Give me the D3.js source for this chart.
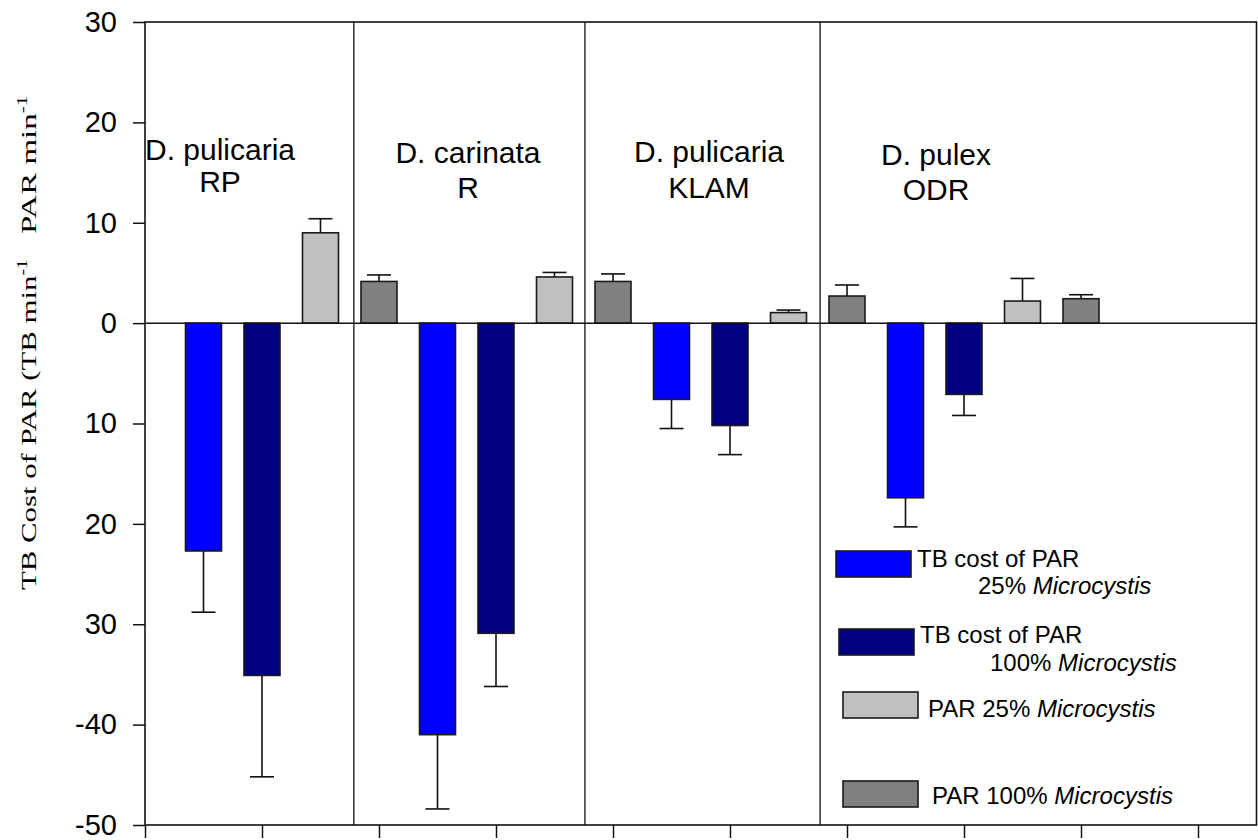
<!DOCTYPE html>
<html lang="en">
<head>
  <meta charset="UTF-8">
  <title>TB cost of PAR</title>
  <script src="https://cdn.jsdelivr.net/npm/d3@7"></script>
  <style>
    body { margin: 0; background: #fff; }
    svg { display: block; }
  </style>
</head>
<body>
<div id="chart"></div>
<script>
  // group labels (two lines each)
  const groupNames = [['D. pulicaria', 'RP'], ['D. carinata', 'R'], ['D. pulicaria', 'KLAM'], ['D. pulex', 'ODR']];

  // series values, one entry per group (null = no bar)
  const par100 = [null, 4.15, 4.15, 2.7, 2.43];
  const par100Err = [null, 0.65, 0.75, 1.1, 0.4];
  const tbCost25 = [-22.7, -41.0, -7.6, -17.4];
  const tbCost25Err = [6.1, 7.4, 2.9, 2.9];
  const tbCost100 = [-35.1, -30.9, -10.2, -7.1];
  const tbCost100Err = [10.1, 5.3, 2.9, 2.1];
  const par25 = [9.0, 4.6, 1.05, 2.2];
  const par25Err = [1.4, 0.45, 0.25, 2.25];

  // y tick values and the labels printed next to them
  const yTicks = [-50, -40, -30, -20, -10, 0, 10, 20, 30];
  const yTickLabels = ['-50', '-40', '30', '20', '10', '0', '10', '20', '30'];

  const series = [
    { key: 'par100', values: par100, err: par100Err, color: '#808080', slot: 0 },
    { key: 'tb25', values: tbCost25, err: tbCost25Err, color: '#0000ff', slot: 1 },
    { key: 'tb100', values: tbCost100, err: tbCost100Err, color: '#000080', slot: 2 },
    { key: 'par25', values: par25, err: par25Err, color: '#c0c0c0', slot: 3 }
  ];

  const W = 1258, H = 840;
  const plotL = 145, plotR = 1256.5, plotT = 22, plotB = 825;
  const barW = 36, capW = 24;

  const x = d3.scaleLinear().domain([0, 19]).range([plotL, plotR]);
  const y = d3.scaleLinear().domain([-50, 30]).range([plotB, plotT]);

  const svg = d3.select('#chart').append('svg')
    .attr('width', W)
    .attr('height', H)
    .style('font-family', '"Liberation Sans", Arial, sans-serif');

  // flatten into bars
  const bars = [];
  series.forEach(s => {
    s.values.forEach((v, i) => {
      if (v == null) return;
      bars.push({ k: i * 4 + s.slot, v: v, e: s.err[i], color: s.color });
    });
  });

  // group dividers
  const dividerAt = [3.57, 7.52, 11.54];
  svg.selectAll('line.div')
    .data(dividerAt)
    .enter().append('line')
    .attr('x1', d => x(d)).attr('x2', d => x(d))
    .attr('y1', plotT).attr('y2', plotB)
    .attr('stroke', '#111').attr('stroke-width', 1.3);

  // error bars (one-sided, away from zero)
  const eb = svg.append('g').attr('stroke', '#111').attr('stroke-width', 1.6);
  bars.forEach(b => {
    const end = b.v < 0 ? b.v - b.e : b.v + b.e;
    eb.append('line')
      .attr('x1', x(b.k)).attr('x2', x(b.k))
      .attr('y1', y(b.v)).attr('y2', y(end));
    eb.append('line')
      .attr('x1', x(b.k) - capW / 2).attr('x2', x(b.k) + capW / 2)
      .attr('y1', y(end)).attr('y2', y(end));
  });

  // bars
  svg.append('g').selectAll('rect')
    .data(bars)
    .enter().append('rect')
    .attr('x', d => x(d.k) - barW / 2)
    .attr('width', barW)
    .attr('y', d => y(Math.max(0, d.v)))
    .attr('height', d => Math.abs(y(d.v) - y(0)))
    .attr('fill', d => d.color)
    .attr('stroke', '#1a1a1a')
    .attr('stroke-width', 1.6);

  // zero line
  svg.append('line')
    .attr('x1', plotL).attr('x2', plotR)
    .attr('y1', y(0)).attr('y2', y(0))
    .attr('stroke', '#111').attr('stroke-width', 1.5);

  // frame
  svg.append('rect')
    .attr('x', plotL).attr('y', plotT)
    .attr('width', plotR - plotL).attr('height', plotB - plotT)
    .attr('fill', 'none').attr('stroke', '#111').attr('stroke-width', 1.6);

  // axes
  const yAxis = d3.axisLeft(y)
    .tickValues(yTicks)
    .tickSize(12)
    .tickPadding(16)
    .tickFormat((d, i) => yTickLabels[i]);
  const gy = svg.append('g').attr('transform', `translate(${plotL},0)`).call(yAxis);
  gy.select('.domain').remove();
  gy.selectAll('line').attr('stroke', '#111').attr('stroke-width', 1.5);
  gy.selectAll('text')
    .attr('font-size', 29)
    .attr('font-family', '"Liberation Sans", Arial, sans-serif')
    .attr('fill', '#000');

  const xAxis = d3.axisBottom(x)
    .tickValues(d3.range(0, 19, 2))
    .tickSize(13)
    .tickFormat('');
  const gx = svg.append('g').attr('transform', `translate(0,${plotB})`).call(xAxis);
  gx.select('.domain').remove();
  gx.selectAll('line').attr('stroke', '#111').attr('stroke-width', 1.5);

  // group labels
  const labelPos = [[220, 160, 192], [468, 163, 198], [709, 162, 198], [936, 165, 200]];
  groupNames.forEach((g, i) => {
    const [cx, y1, y2] = labelPos[i];
    const t = svg.append('text')
      .attr('text-anchor', 'middle')
      .attr('font-size', 30)
      .attr('fill', '#000');
    t.append('tspan').attr('x', cx).attr('y', y1).text(g[0]);
    t.append('tspan').attr('x', cx).attr('y', y2).text(g[1]);
  });

  // y axis titles (serif, stretched along the text)
  const yTitle = (text, yStart, sx) => {
    const t = svg.append('text')
      .attr('transform', `translate(36,${yStart}) rotate(-90) scale(${sx},1)`)
      .attr('font-family', '"Liberation Serif", "Times New Roman", serif')
      .attr('font-size', 22)
      .attr('fill', '#000');
    t.append('tspan').text(text);
    t.append('tspan').attr('font-size', 14).attr('dy', -9).text('-1');
  };
  yTitle('TB Cost of PAR (TB min', 590, 1.4);
  yTitle('PAR min', 234, 1.5);

  // legend
  const legendItems = [
    { color: '#0000ff', lines: ['TB cost of PAR', '25%'] },
    { color: '#000080', lines: ['TB cost of PAR', '100%'] },
    { color: '#c0c0c0', lines: ['PAR 25%'] },
    { color: '#808080', lines: ['PAR 100%'] }
  ];
  const legendPos = [
    { sx: 836, sy: 551, tx: 917, ty: 567, tx2: 978, ty2: 594 },
    { sx: 839, sy: 629, tx: 920, ty: 643, tx2: 990, ty2: 671 },
    { sx: 843, sy: 692, tx: 928, ty: 717 },
    { sx: 843, sy: 781, tx: 932, ty: 804 }
  ];
  legendItems.forEach((d, i) => {
    const p = legendPos[i];
    svg.append('rect')
      .attr('x', p.sx).attr('y', p.sy)
      .attr('width', 75).attr('height', 26)
      .attr('fill', d.color)
      .attr('stroke', '#1a1a1a').attr('stroke-width', 1.6);
    if (d.lines.length === 2) {
      svg.append('text').attr('x', p.tx).attr('y', p.ty)
        .attr('font-size', 24).text(d.lines[0]);
      const t2 = svg.append('text').attr('x', p.tx2).attr('y', p.ty2).attr('font-size', 24);
      t2.append('tspan').text(d.lines[1] + ' ');
      t2.append('tspan').attr('font-style', 'italic').text('Microcystis');
    } else {
      const t = svg.append('text').attr('x', p.tx).attr('y', p.ty).attr('font-size', 24);
      t.append('tspan').text(d.lines[0] + ' ');
      t.append('tspan').attr('font-style', 'italic').text('Microcystis');
    }
  });
</script>
</body>
</html>
